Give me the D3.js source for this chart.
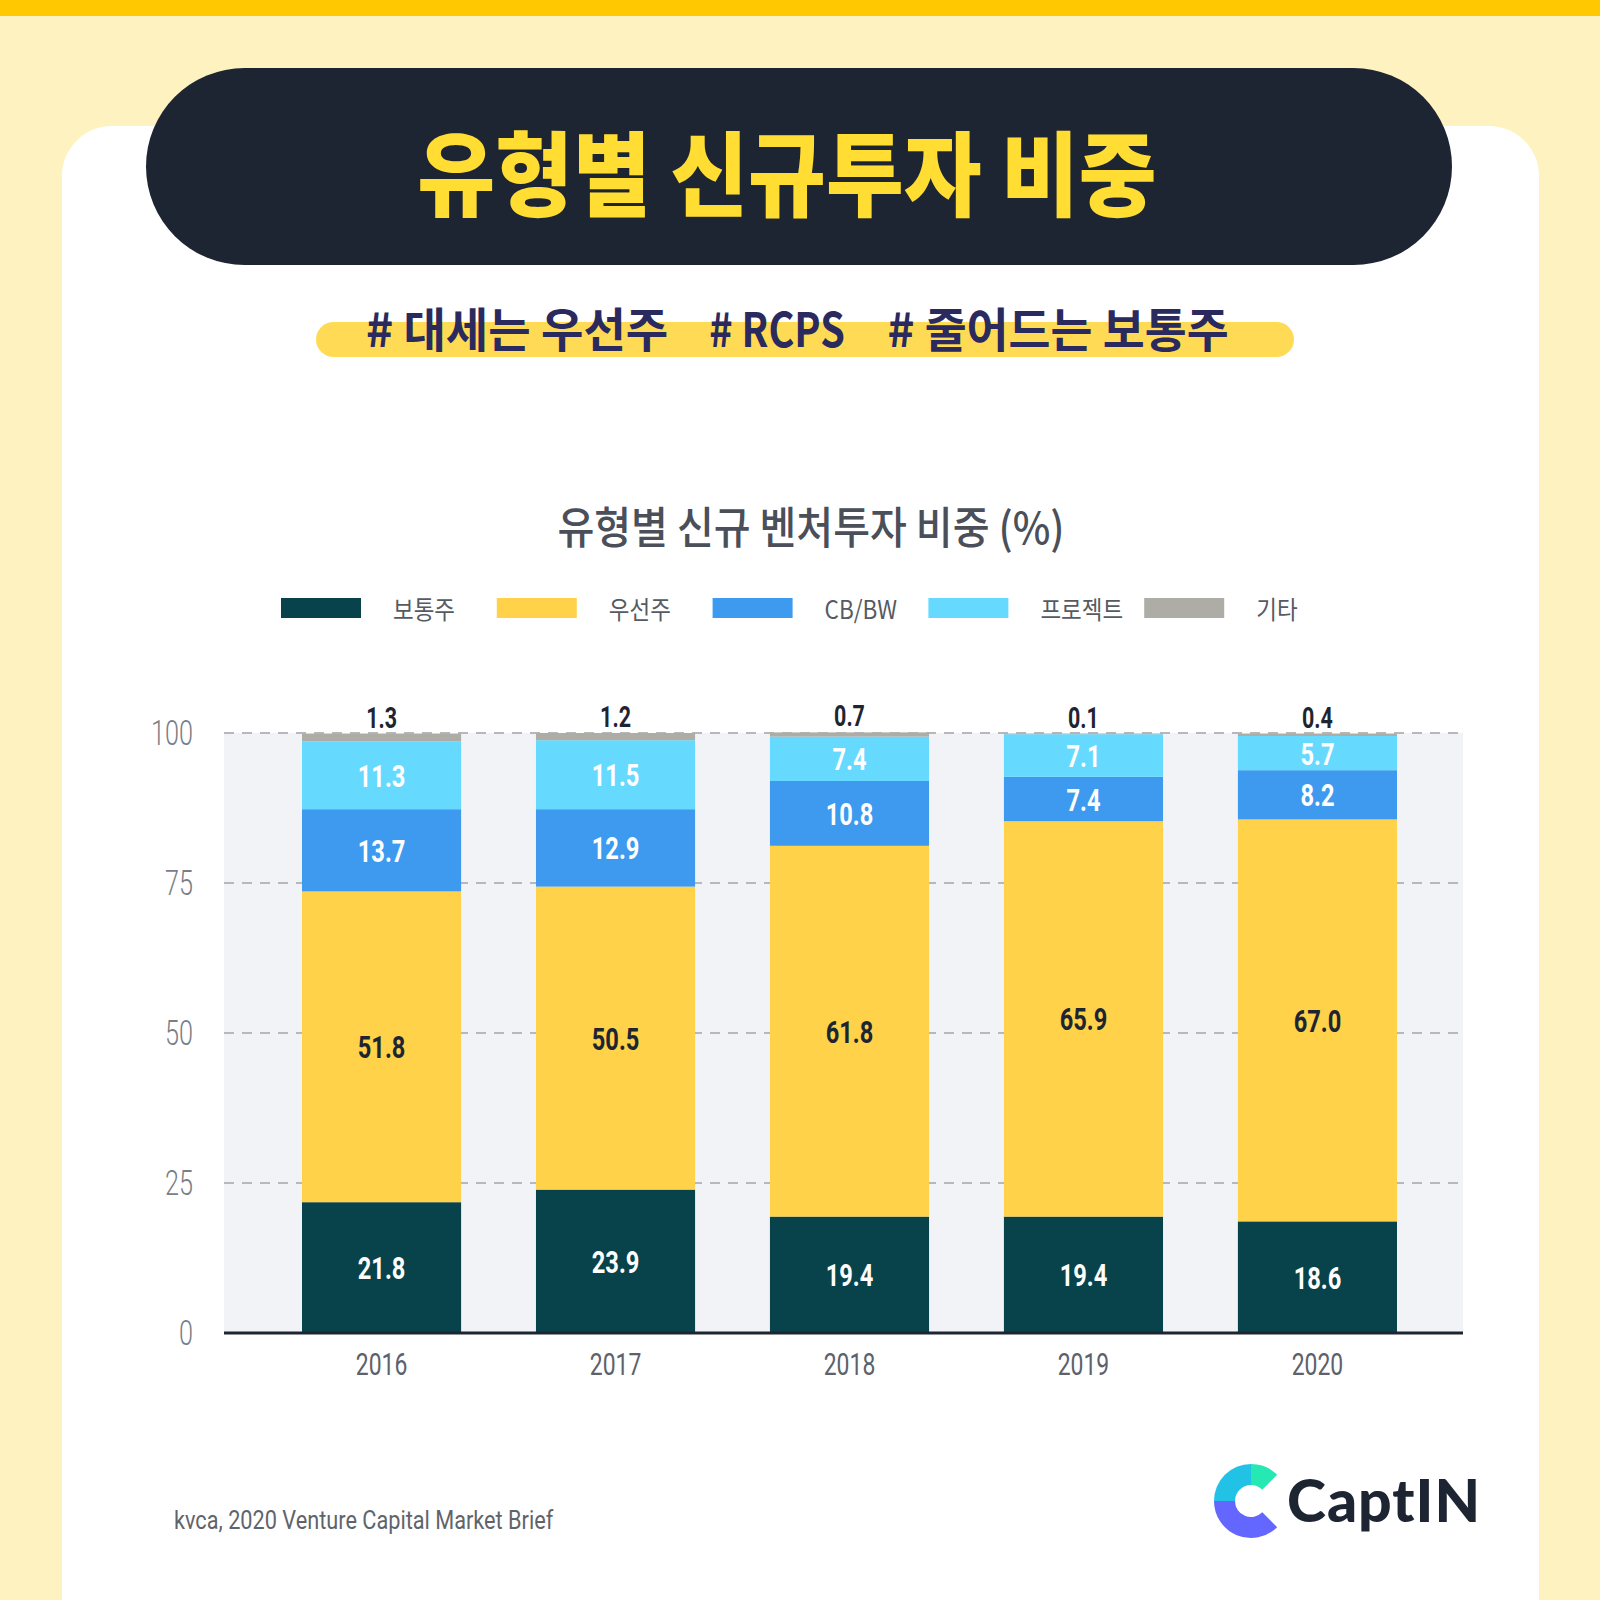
<!DOCTYPE html>
<html>
<head>
<meta charset="utf-8">
<script src="https://cdn.jsdelivr.net/npm/d3@7"></script>
<style>
  body { margin: 0; background: #fff2c1; }
  svg { display: block; }
</style>
</head>
<body>
<svg id="chart" width="1600" height="1600"></svg>
<script>
// chart data
const years = ['2016', '2017', '2018', '2019', '2020'];
const seriesNames = ['보통주', '우선주', 'CB/BW', '프로젝트', '기타'];
const common = [21.8, 23.9, 19.4, 19.4, 18.6];
const preferred = [51.8, 50.5, 61.8, 65.9, 67.0];
const cbbw = [13.7, 12.9, 10.8, 7.4, 8.2];
const project = [11.3, 11.5, 7.4, 7.1, 5.7];
const other = [1.3, 1.2, 0.7, 0.1, 0.4];
const yTicks = [0, 25, 50, 75, 100];

const colors = ['#08434b', '#ffd249', '#3d9aee', '#66d9ff', '#adada6'];
const labelColors = ['#ffffff', '#1e2532', '#ffffff', '#ffffff', '#1e2532'];

const KR = '"Noto Sans CJK KR", "Noto Sans", sans-serif';
const NUM = 'Roboto, "Noto Sans", sans-serif';

const rows = years.map((y, i) => ({
  year: y,
  [seriesNames[0]]: common[i],
  [seriesNames[1]]: preferred[i],
  [seriesNames[2]]: cbbw[i],
  [seriesNames[3]]: project[i],
  [seriesNames[4]]: other[i]
}));

const svg = d3.select('#chart');

// page background + card
svg.append('rect').attr('width', 1600).attr('height', 1600).attr('fill', '#fff2c1');
svg.append('rect').attr('width', 1600).attr('height', 16).attr('fill', '#ffc800');
svg.append('rect')
  .attr('x', 62).attr('y', 126)
  .attr('width', 1477).attr('height', 1560)
  .attr('rx', 50).attr('fill', '#ffffff');

// helper: text squeezed horizontally around its anchor
function squeezed(parent, x, y, txt, k) {
  return parent.append('text')
    .attr('transform', `translate(${x},${y}) scale(${k},1)`)
    .text(txt);
}

// title pill
svg.append('rect')
  .attr('x', 146).attr('y', 68)
  .attr('width', 1306).attr('height', 197)
  .attr('rx', 98.5).attr('fill', '#1e2532');
squeezed(svg, 787, 168, '유형별 신규투자 비중', 0.92)
  .attr('text-anchor', 'middle')
  .attr('dominant-baseline', 'central')
  .style('font-family', KR)
  .style('font-weight', 900)
  .style('font-size', '92px')
  .style('fill', '#ffdd33');

// hashtag line
svg.append('rect')
  .attr('x', 316).attr('y', 322)
  .attr('width', 978).attr('height', 35)
  .attr('rx', 17.5).attr('fill', '#ffdb55');
const tags = [
  { t: '# 대세는 우선주', cx: 517, k: 0.98 },
  { t: '# RCPS', cx: 777, k: 0.84 },
  { t: '# 줄어드는 보통주', cx: 1058, k: 0.97 }
];
tags.forEach(d => {
  squeezed(svg, d.cx, 326, d.t, d.k)
    .attr('text-anchor', 'middle')
    .attr('dominant-baseline', 'central')
    .style('font-family', KR)
    .style('font-weight', 700)
    .style('font-size', '47px')
    .style('fill', '#2b2a5e');
});

// chart title
squeezed(svg, 811, 525, '유형별 신규 벤처투자 비중 (%)', 0.91)
  .attr('text-anchor', 'middle')
  .attr('dominant-baseline', 'central')
  .style('font-family', KR)
  .style('font-weight', 500)
  .style('font-size', '44px')
  .style('fill', '#4a4f59');

// legend
const legend = svg.append('g').attr('class', 'legend');
seriesNames.forEach((name, i) => {
  const lx = 281 + i * 215.8;
  legend.append('rect')
    .attr('x', lx).attr('y', 598)
    .attr('width', 80).attr('height', 20)
    .attr('fill', colors[i]);
  squeezed(legend, lx + 112, 608, name, 0.9)
    .attr('dominant-baseline', 'central')
    .style('font-family', KR)
    .style('font-size', '25px')
    .style('fill', '#555a63');
});

// scales
const x = d3.scaleBand()
  .domain(years)
  .range([302, 1397])
  .paddingInner(0.32)
  .paddingOuter(0);
const y = d3.scaleLinear().domain([0, 100]).range([1333, 733]);

// plot background
svg.append('rect')
  .attr('x', 224).attr('y', y(100))
  .attr('width', 1463 - 224).attr('height', y(0) - y(100))
  .attr('fill', '#f2f3f7');

// dashed gridlines
svg.append('g').selectAll('line')
  .data(yTicks.filter(t => t > 0))
  .join('line')
  .attr('x1', 224).attr('x2', 1463)
  .attr('y1', d => y(d)).attr('y2', d => y(d))
  .attr('stroke', '#b5b8bd')
  .attr('stroke-width', 2)
  .attr('stroke-dasharray', '10,8');

// y axis labels
const yAxis = svg.append('g')
  .attr('transform', 'translate(193,0)')
  .call(d3.axisLeft(y).tickValues(yTicks).tickSize(0).tickPadding(0));
yAxis.select('.domain').remove();
yAxis.selectAll('text')
  .attr('x', null)
  .attr('transform', 'scale(0.72,1)')
  .style('font-family', NUM)
  .style('font-weight', 300)
  .style('font-size', '35px')
  .style('fill', '#7a7e86');

// stacked bars
const stack = d3.stack().keys(seriesNames);
const layers = stack(rows);

const barGroup = svg.append('g').attr('class', 'bars');
layers.forEach((layer, si) => {
  barGroup.append('g')
    .attr('fill', colors[si])
    .selectAll('rect')
    .data(layer)
    .join('rect')
    .attr('x', d => x(d.data.year))
    .attr('y', d => y(d[1]))
    .attr('width', x.bandwidth())
    .attr('height', d => y(d[0]) - y(d[1]));
});

// value labels
const labelGroup = svg.append('g').attr('class', 'labels');
layers.forEach((layer, si) => {
  layer.forEach(d => {
    const cx = x(d.data.year) + x.bandwidth() / 2;
    const isTop = si === seriesNames.length - 1;
    const cy = isTop ? y(d[1]) - 6 : (y(d[0]) + y(d[1])) / 2;
    const t = squeezed(labelGroup, cx, cy, d.data[layer.key].toFixed(1), 0.74)
      .attr('text-anchor', 'middle')
      .style('font-family', NUM)
      .style('font-weight', 700)
      .style('font-size', isTop ? '29px' : '32px')
      .style('fill', labelColors[si]);
    if (!isTop) t.attr('dy', '0.36em');
  });
});

// baseline
svg.append('line')
  .attr('x1', 224).attr('x2', 1463)
  .attr('y1', y(0)).attr('y2', y(0))
  .attr('stroke', '#1e2532')
  .attr('stroke-width', 3);

// x axis labels
const xAxis = svg.append('g')
  .attr('transform', `translate(0,${y(0)})`)
  .call(d3.axisBottom(x).tickSize(0).tickPadding(20));
xAxis.select('.domain').remove();
xAxis.selectAll('text')
  .attr('transform', 'scale(0.74,1)')
  .style('font-family', NUM)
  .style('font-size', '31px')
  .style('fill', '#5c616b');

// source
squeezed(svg, 174, 1529, 'kvca, 2020 Venture Capital Market Brief', 0.835)
  .style('font-family', NUM)
  .style('font-size', '26px')
  .style('fill', '#5f646c');

// logo
const logo = svg.append('g').attr('transform', 'translate(1251,1501)');
const arc = d3.arc().innerRadius(16).outerRadius(37);
const logoParts = [
  { a0: 0, a1: Math.PI / 4, c: '#26e8b2' },
  { a0: Math.PI * 0.75, a1: Math.PI * 1.5, c: '#6366ff' },
  { a0: Math.PI * 1.5, a1: Math.PI * 2, c: '#22c2e6' }
];
logo.selectAll('path')
  .data(logoParts)
  .join('path')
  .attr('d', d => arc({ startAngle: d.a0, endAngle: d.a1 }))
  .attr('fill', d => d.c);
svg.append('text')
  .attr('x', 1287).attr('y', 1522)
  .text('CaptIN')
  .style('font-family', 'Lato, Inter, sans-serif')
  .style('font-weight', 900)
  .style('font-size', '59px')
  .style('letter-spacing', '1px')
  .style('fill', '#1e2532');
</script>
</body>
</html>
